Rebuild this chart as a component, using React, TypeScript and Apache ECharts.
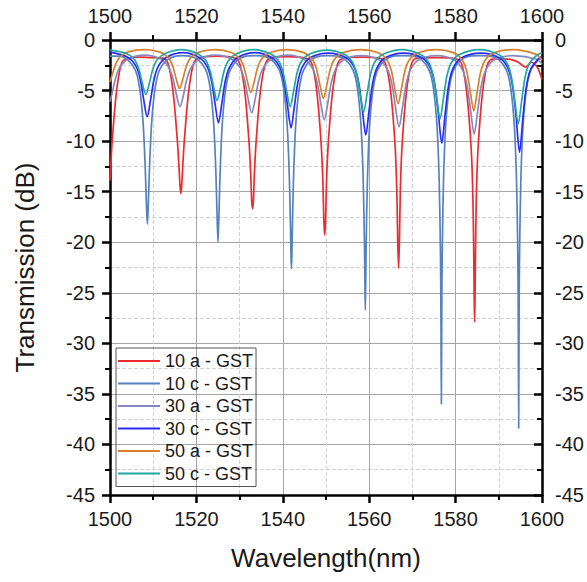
import React, { useEffect, useRef } from "react";
import * as echarts from "echarts";

const FONT = "'Liberation Sans', Arial, Helvetica, sans-serif";

const xMin = 1500;
const xMax = 1600;
const xStep = 20;
const yMin = -45;
const yMax = 0;
const yStep = 5;

const seriesNames = ["10 a - GST", "10 c - GST", "30 a - GST", "30 c - GST", "50 a - GST", "50 c - GST"];
const seriesColors = ["#ee2a2e", "#5582bf", "#8888bf", "#2b2bf5", "#d9802c", "#1fa7a0"];

const s10a: [number, number][] = [
  [1500, -13.9], [1500.3, -11.5], [1500.5, -10.0], [1501.5, -5.1], [1502.6, -2.4], [1503.7, -1.85],
  [1506.9, -1.7], [1510, -1.75], [1512.4, -1.8], [1513.5, -2.4], [1514.6, -5.1], [1515.6, -10],
  [1516.0, -12.8], [1516.2, -14.4], [1516.4, -15.2], [1516.6, -14.4], [1516.8, -12.8], [1517.2, -10],
  [1518.2, -5.1], [1519.3, -2.4], [1520.4, -1.8], [1524.7, -1.6], [1529.0, -1.8], [1530.1, -2.45],
  [1531.2, -5.1], [1532.2, -10.2], [1532.6, -13.5], [1532.8, -15.9], [1533.0, -16.7], [1533.2, -15.9],
  [1533.4, -13.5], [1533.8, -10.2], [1534.8, -5.1], [1535.9, -2.45], [1537.0, -1.8], [1541.3, -1.65],
  [1545.7, -1.85], [1546.8, -2.45], [1547.9, -5.2], [1548.9, -10.4], [1549.3, -14.3], [1549.5, -17.9],
  [1549.7, -19.3], [1549.9, -17.9], [1550.1, -14.3], [1550.5, -10.4], [1551.5, -5.2], [1552.6, -2.45],
  [1553.7, -1.85], [1558.2, -1.7], [1562.8, -1.85], [1563.9, -2.5], [1565.0, -5.2], [1566.0, -10.5],
  [1566.4, -15.0], [1566.6, -19.8], [1566.8, -22.6], [1567.0, -19.8], [1567.2, -15.0], [1567.6, -10.5],
  [1568.6, -5.2], [1569.7, -2.5], [1570.8, -1.85], [1575.6, -1.75], [1580.4, -1.9], [1581.5, -2.5],
  [1582.6, -5.3], [1583.6, -10.7], [1584.0, -15.5], [1584.2, -21.3], [1584.3, -25.3], [1584.4, -27.9],
  [1584.5, -25.3], [1584.6, -21.3], [1584.8, -15.5], [1585.2, -10.7], [1586.2, -5.3], [1587.3, -2.5],
  [1588.4, -1.9], [1592, -1.9], [1594.5, -2.2], [1596.2, -2.7], [1597.5, -2.2], [1598.8, -2.6], [1600, -3.9],
];

const s10c: [number, number][] = [
  [1500, -1.6], [1502.15, -1.6], [1504.15, -2.0], [1505.85, -2.97], [1506.85, -4.74], [1507.65, -8.12],
  [1508.15, -12.6], [1508.45, -16.5], [1508.65, -18.2], [1508.85, -16.5], [1509.15, -12.6], [1509.65, -8.12],
  [1510.45, -4.74], [1511.45, -2.97], [1513.15, -2.0], [1515.15, -1.6], [1516.8, -1.55], [1518.5, -1.6],
  [1520.5, -2.0], [1522.2, -2.98], [1523.2, -4.77], [1524.0, -8.24], [1524.5, -13.0], [1524.8, -17.6],
  [1525.0, -20.0], [1525.2, -17.6], [1525.5, -13.0], [1526.0, -8.24], [1526.8, -4.77], [1527.8, -2.98],
  [1529.5, -2.0], [1531.5, -1.6], [1533.5, -1.55], [1535.5, -1.6], [1537.5, -2.0], [1539.2, -2.99],
  [1540.2, -4.81], [1541.0, -8.35], [1541.5, -13.4], [1541.8, -18.9], [1541.9, -21.4], [1542.0, -22.6],
  [1542.1, -21.4], [1542.2, -18.9], [1542.5, -13.4], [1543.0, -8.35], [1543.8, -4.81], [1544.8, -2.99],
  [1546.5, -2.0], [1548.5, -1.6], [1550.55, -1.55], [1552.6, -1.6], [1554.6, -2.0], [1556.3, -3.0],
  [1557.3, -4.83], [1558.1, -8.44], [1558.6, -13.7], [1558.9, -20.2], [1559.0, -23.8], [1559.1, -26.7],
  [1559.2, -23.8], [1559.3, -20.2], [1559.6, -13.7], [1560.1, -8.44], [1560.9, -4.83], [1561.9, -3.0],
  [1563.6, -2.0], [1565.6, -1.6], [1567.9, -1.55], [1570.2, -1.6], [1572.2, -2.0], [1573.9, -3.0],
  [1574.9, -4.85], [1575.7, -8.5], [1576.2, -13.9], [1576.5, -21.3], [1576.6, -27.0], [1576.7, -36.0],
  [1576.8, -27.0], [1576.9, -21.3], [1577.2, -13.9], [1577.7, -8.5], [1578.5, -4.85], [1579.5, -3.0],
  [1581.2, -2.0], [1583.2, -1.6], [1585.65, -1.55], [1588.1, -1.6], [1590.1, -2.0], [1591.8, -3.0],
  [1592.8, -4.85], [1593.6, -8.5], [1594.1, -13.9], [1594.4, -21.3], [1594.5, -27.2], [1594.6, -38.4],
  [1594.7, -27.2], [1594.8, -21.3], [1595.1, -13.9], [1595.6, -8.5], [1596.4, -4.85], [1597.4, -3.0],
  [1599.1, -2.0], [1600, -1.75],
];

const s30a: [number, number][] = [
  [1500, -6.1], [1500.5, -5.25], [1501.3, -3.76], [1502.3, -2.67], [1504.2, -1.87], [1508, -1.5],
  [1511.7, -1.88], [1513.6, -2.72], [1514.6, -3.86], [1515.4, -5.44], [1516.2, -6.6], [1517.0, -5.44],
  [1517.8, -3.86], [1518.8, -2.72], [1520.7, -1.88], [1524.5, -1.5], [1528.3, -1.92], [1530.2, -2.81],
  [1531.2, -4.06], [1532.0, -5.85], [1532.8, -7.2], [1533.6, -5.85], [1534.4, -4.06], [1535.4, -2.81],
  [1537.3, -1.92], [1541.2, -1.5], [1545.1, -1.96], [1547.0, -2.9], [1548.0, -4.26], [1548.8, -6.28],
  [1549.6, -7.9], [1550.4, -6.28], [1551.2, -4.26], [1552.2, -2.9], [1554.1, -1.96], [1558.2, -1.55],
  [1562.4, -1.99], [1564.3, -2.98], [1565.3, -4.44], [1566.1, -6.69], [1566.9, -8.6], [1567.7, -6.69],
  [1568.5, -4.44], [1569.5, -2.98], [1571.4, -1.99], [1575.6, -1.55], [1579.8, -2.01], [1581.7, -3.06],
  [1582.7, -4.61], [1583.5, -7.07], [1584.3, -9.3], [1585.1, -7.07], [1585.9, -4.61], [1586.9, -3.06],
  [1588.8, -2.01], [1593.3, -1.55], [1598.8, -1.9], [1600, -2.4],
];

const s30c: [number, number][] = [
  [1500, -1.2], [1504.1, -1.7], [1506.0, -2.58], [1507.0, -3.88], [1507.8, -5.9], [1508.6, -7.6],
  [1509.4, -5.9], [1510.2, -3.88], [1511.2, -2.58], [1513.1, -1.7], [1516.9, -1.25], [1520.6, -1.72],
  [1522.5, -2.65], [1523.5, -4.03], [1524.3, -6.24], [1525.1, -8.2], [1525.9, -6.24], [1526.7, -4.03],
  [1527.7, -2.65], [1529.6, -1.72], [1533.5, -1.25], [1537.4, -1.74], [1539.3, -2.69], [1540.3, -4.15],
  [1541.1, -6.51], [1541.9, -8.7], [1542.7, -6.51], [1543.5, -4.15], [1544.5, -2.69], [1546.4, -1.74],
  [1550.5, -1.3], [1554.7, -1.76], [1556.6, -2.76], [1557.6, -4.29], [1558.4, -6.85], [1559.2, -9.4],
  [1560.0, -6.85], [1560.8, -4.29], [1561.8, -2.76], [1563.7, -1.76], [1568.0, -1.3], [1572.3, -1.78],
  [1574.2, -2.81], [1575.2, -4.43], [1576.0, -7.23], [1576.8, -10.2], [1577.6, -7.23], [1578.4, -4.43],
  [1579.4, -2.81], [1581.3, -1.78], [1585.8, -1.3], [1590.3, -1.8], [1592.2, -2.87], [1593.2, -4.56],
  [1594.0, -7.6], [1594.8, -11.1], [1595.6, -7.6], [1596.4, -4.56], [1597.4, -2.87], [1599.3, -1.8],
  [1600, -1.64],
];

const s50a: [number, number][] = [
  [1500, -4.16], [1500.5, -3.47], [1501.3, -2.39], [1502.3, -1.67], [1504.2, -1.18], [1508, -0.95],
  [1511.6, -1.2], [1513.5, -1.74], [1514.5, -2.56], [1515.3, -3.81], [1516.1, -4.8], [1516.9, -3.81],
  [1517.7, -2.56], [1518.7, -1.74], [1520.6, -1.2], [1524.4, -0.95], [1528.1, -1.23], [1530.0, -1.81],
  [1531.0, -2.69], [1531.8, -4.07], [1532.6, -5.2], [1533.4, -4.07], [1534.2, -2.69], [1535.2, -1.81],
  [1537.1, -1.23], [1541.0, -0.95], [1544.9, -1.25], [1546.8, -1.88], [1547.8, -2.86], [1548.6, -4.44],
  [1549.4, -5.8], [1550.2, -4.44], [1551.0, -2.86], [1552.0, -1.88], [1553.9, -1.25], [1558.0, -0.95],
  [1562.2, -1.28], [1564.1, -1.95], [1565.1, -3.0], [1565.9, -4.73], [1566.7, -6.3], [1567.5, -4.73],
  [1568.3, -3.0], [1569.3, -1.95], [1571.2, -1.28], [1575.5, -0.95], [1579.7, -1.3], [1581.6, -2.02],
  [1582.6, -3.16], [1583.4, -5.12], [1584.2, -7.0], [1585.0, -5.12], [1585.8, -3.16], [1586.8, -2.02],
  [1588.7, -1.3], [1593.3, -0.95], [1598.5, -1.4], [1600, -2.0],
];

const s50c: [number, number][] = [
  [1500, -1.0], [1503.8, -1.33], [1505.7, -1.96], [1506.7, -2.9], [1507.5, -4.31], [1508.3, -5.4],
  [1509.1, -4.31], [1509.9, -2.9], [1510.9, -1.96], [1512.8, -1.33], [1516.5, -0.95], [1520.3, -1.36],
  [1522.2, -2.05], [1523.2, -3.08], [1524.0, -4.69], [1524.8, -6.0], [1525.6, -4.69], [1526.4, -3.08],
  [1527.4, -2.05], [1529.3, -1.36], [1533.2, -0.95], [1537.2, -1.39], [1539.1, -2.12], [1540.1, -3.25],
  [1540.9, -5.06], [1541.7, -6.6], [1542.5, -5.06], [1543.3, -3.25], [1544.3, -2.12], [1546.2, -1.39],
  [1550.2, -1.0], [1554.2, -1.41], [1556.1, -2.18], [1557.1, -3.38], [1557.9, -5.35], [1558.7, -7.1],
  [1559.5, -5.35], [1560.3, -3.38], [1561.3, -2.18], [1563.2, -1.41], [1567.5, -0.95], [1571.9, -1.43],
  [1573.8, -2.25], [1574.8, -3.54], [1575.6, -5.73], [1576.4, -7.8], [1577.2, -5.73], [1578.0, -3.54],
  [1579.0, -2.25], [1580.9, -1.43], [1585.5, -0.95], [1590.0, -1.45], [1591.9, -2.3], [1592.9, -3.64],
  [1593.7, -5.99], [1594.5, -8.3], [1595.3, -5.99], [1596.1, -3.64], [1597.1, -2.3], [1599.0, -1.45],
  [1600, -1.28],
];

const seriesData = [s10a, s10c, s30a, s30c, s50a, s50c];

export default function App() {
  const ref = useRef<HTMLDivElement>(null);

  useEffect(() => {
    if (!ref.current) return;
    const chart = echarts.init(ref.current, null, { renderer: "svg" });

    const axisLine = { show: true, onZero: false, lineStyle: { color: "#000", width: 2.5 } };
    const plain = (v: number) => String(v);
    const labelStyle = { fontSize: 20, color: "#1a1a1a", fontFamily: FONT, formatter: plain };
    const nameStyle = { fontSize: 26, color: "#1a1a1a", fontFamily: FONT };
    const minorTick = { show: true, splitNumber: 2, length: 5, lineStyle: { color: "#000", width: 2 } };

    const xCommon = { type: "value" as const, min: xMin, max: xMax, interval: xStep, axisLine, minorTick };
    const yCommon = { type: "value" as const, min: yMin, max: yMax, interval: yStep, axisLine, minorTick };

    chart.setOption({
      animation: false,
      backgroundColor: "#ffffff",
      grid: { left: 110, right: 45, top: 40, bottom: 87, containLabel: false },
      xAxis: [
        {
          ...xCommon,
          position: "bottom",
          axisTick: { show: true, inside: false, length: 8, lineStyle: { color: "#000", width: 2.5 } },
          axisLabel: { ...labelStyle, margin: 14 },
          splitLine: { show: true, lineStyle: { color: "#a5a5a5", width: 1 } },
          minorSplitLine: { show: true, lineStyle: { color: "#d2d2d2", width: 1, type: "dashed" } },
          name: "Wavelength(nm)",
          nameLocation: "middle",
          nameGap: 50,
          nameTextStyle: nameStyle,
        },
        {
          ...xCommon,
          position: "top",
          axisTick: { show: true, inside: false, length: 8, lineStyle: { color: "#000", width: 2.5 } },
          axisLabel: { ...labelStyle, margin: 14 },
          splitLine: { show: false },
          minorSplitLine: { show: false },
        },
      ],
      yAxis: [
        {
          ...yCommon,
          position: "left",
          axisTick: { show: true, inside: false, length: 8, lineStyle: { color: "#000", width: 2.5 } },
          axisLabel: { ...labelStyle, margin: 15 },
          splitLine: { show: true, lineStyle: { color: "#a5a5a5", width: 1 } },
          minorSplitLine: { show: true, lineStyle: { color: "#d2d2d2", width: 1, type: "dashed" } },
          name: "Transmission (dB)",
          nameLocation: "middle",
          nameGap: 72,
          nameTextStyle: nameStyle,
        },
        {
          ...yCommon,
          position: "right",
          axisTick: { show: true, inside: true, length: 8, lineStyle: { color: "#000", width: 2.5 } },
          axisLabel: { ...labelStyle, margin: 13, inside: false },
          splitLine: { show: false },
          minorSplitLine: { show: false },
        },
      ],
      legend: {
        orient: "vertical",
        left: 116,
        top: 348,
        icon: "rect",
        itemWidth: 42,
        itemHeight: 2,
        itemGap: 4.5,
        padding: [4, 3, 4, 2],
        borderColor: "#555",
        borderWidth: 1,
        backgroundColor: "rgba(255,255,255,0)",
        textStyle: { fontSize: 18, color: "#1a1a1a", fontFamily: FONT },
        data: seriesNames,
      },
      series: seriesNames.map((name, i) => ({
        name,
        type: "line",
        xAxisIndex: 0,
        yAxisIndex: 0,
        data: seriesData[i],
        symbol: "none",
        showSymbol: false,
        smooth: 0.3,
        clip: true,
        color: seriesColors[i],
        itemStyle: { color: seriesColors[i] },
        lineStyle: { color: seriesColors[i], width: 1.7 },
      })),
    });

    return () => chart.dispose();
  }, []);

  return (
    <div
      ref={ref}
      style={{ position: "fixed", left: 0, top: 0, width: 587, height: 582, background: "#fff" }}
    />
  );
}
